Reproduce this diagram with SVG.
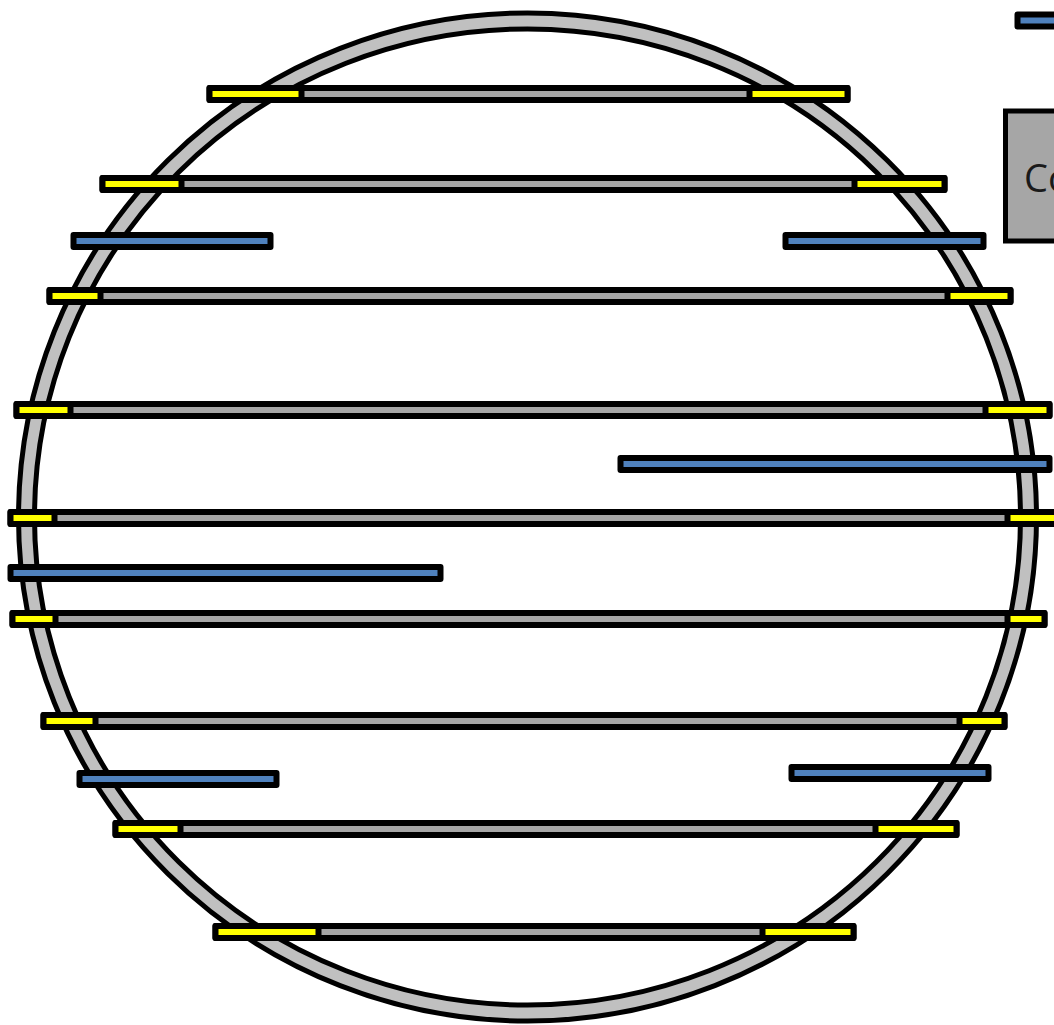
<svg xmlns="http://www.w3.org/2000/svg" width="1054" height="1025" viewBox="0 0 1054 1025">
<style>
.b{stroke:#000;stroke-width:6;stroke-linejoin:round}
.g{fill:#a6a6a6}
.y{fill:#ffff00}
.u{fill:#4f81bd}
</style>
<rect width="1054" height="1025" fill="#fff"/>
<g id="ring">
<ellipse cx="527.5" cy="517" rx="501" ry="496" fill="none" stroke="#000" stroke-width="21"/>
<ellipse cx="527.5" cy="517" rx="501" ry="496" fill="none" stroke="#c0c0c0" stroke-width="11"/>
</g>
<g id="bar1"><rect class="b g" x="209.5" y="88" width="638" height="12"/><rect class="b y" x="209.5" y="88" width="92" height="12"/><rect class="b y" x="749.5" y="88" width="98" height="12"/></g>
<g id="bar2"><rect class="b g" x="102.5" y="178" width="842" height="12"/><rect class="b y" x="102.5" y="178" width="79" height="12"/><rect class="b y" x="854.5" y="178" width="90" height="12"/></g>
<g id="blue1"><rect class="b u" x="73.5" y="235" width="197" height="12"/></g>
<g id="blue2"><rect class="b u" x="785.5" y="235" width="198" height="12"/></g>
<g id="bar3"><rect class="b g" x="49.5" y="290" width="961" height="12"/><rect class="b y" x="49.5" y="290" width="51" height="12"/><rect class="b y" x="947.5" y="290" width="63" height="12"/></g>
<g id="bar4"><rect class="b g" x="16.5" y="404" width="1033" height="12"/><rect class="b y" x="16.5" y="404" width="54" height="12"/><rect class="b y" x="985.5" y="404" width="64" height="12"/></g>
<g id="blue3"><rect class="b u" x="620.5" y="458" width="429" height="12"/></g>
<g id="bar5"><rect class="b g" x="10.5" y="512" width="1050" height="12"/><rect class="b y" x="10.5" y="512" width="44" height="12"/><rect class="b y" x="1007.5" y="512" width="60" height="12"/></g>
<g id="blue4"><rect class="b u" x="10.5" y="567" width="430" height="12"/></g>
<g id="bar6"><rect class="b g" x="12.5" y="613" width="1032" height="12"/><rect class="b y" x="12.5" y="613" width="43" height="12"/><rect class="b y" x="1007.5" y="613" width="37" height="12"/></g>
<g id="bar7"><rect class="b g" x="43.5" y="715" width="961" height="12"/><rect class="b y" x="43.5" y="715" width="52" height="12"/><rect class="b y" x="959.5" y="715" width="45" height="12"/></g>
<g id="blue5"><rect class="b u" x="79.5" y="773" width="197" height="12"/></g>
<g id="blue6"><rect class="b u" x="791.5" y="767" width="197" height="12"/></g>
<g id="bar8"><rect class="b g" x="115.5" y="823" width="841" height="12"/><rect class="b y" x="115.5" y="823" width="65" height="12"/><rect class="b y" x="875.5" y="823" width="81" height="12"/></g>
<g id="bar9"><rect class="b g" x="215.5" y="926" width="638" height="12"/><rect class="b y" x="215.5" y="926" width="103" height="12"/><rect class="b y" x="762.5" y="926" width="91" height="12"/></g>
<g id="legend">
<rect class="b u" x="1017.5" y="14.5" width="60" height="12"/>
<rect x="1005.5" y="111" width="80" height="130" fill="#a6a6a6" stroke="#000" stroke-width="5"/>
<text x="1024" y="192" font-family="Open Sans, DejaVu Sans, sans-serif" font-size="38" fill="#1a1a1a">Co</text>
</g>
</svg>
